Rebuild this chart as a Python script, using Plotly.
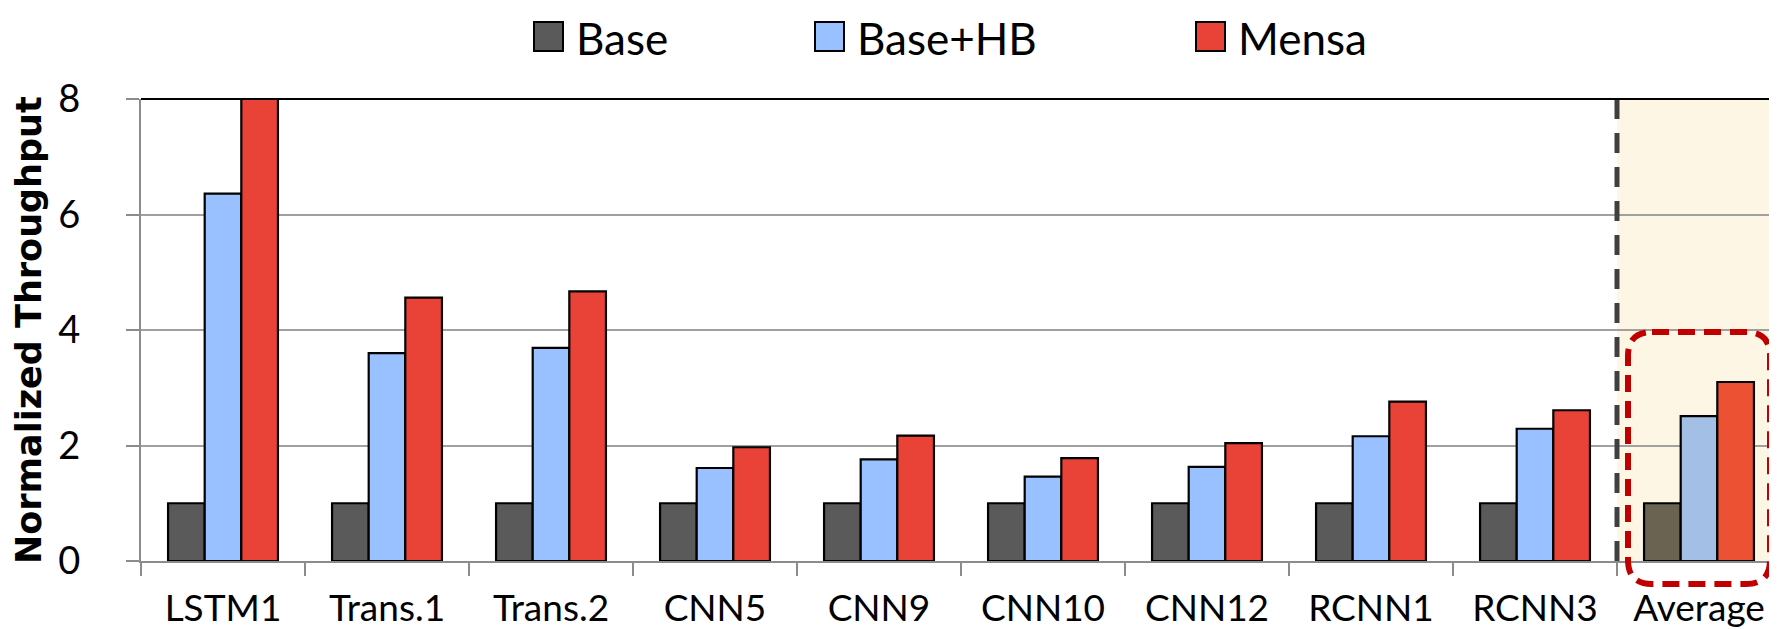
import plotly.graph_objects as go

categories = ["LSTM1", "Trans.1", "Trans.2", "CNN5", "CNN9", "CNN10", "CNN12", "RCNN1", "RCNN3", "Average"]
series_names = ["Base", "Base+HB", "Mensa"]
base = [1, 1, 1, 1, 1, 1, 1, 1, 1, 1]
base_hb = [6.36, 3.60, 3.69, 1.61, 1.76, 1.46, 1.63, 2.16, 2.29, 2.51]
mensa = [8.0, 4.56, 4.67, 1.97, 2.17, 1.78, 2.04, 2.76, 2.61, 3.10]
y_ticks = [0, 2, 4, 6, 8]

# normal colour, then the tinted colour used in the highlighted Average column
_COLORS = {
    "Base": ("#5a5a5a", "#6b6352"),
    "Base+HB": ("#99c1ff", "#a3bfe6"),
    "Mensa": ("#e94236", "#ec5133"),
}

W, H = 1777, 629
L, R, T, B = 133, 4, 91, 76
_FONT = "Lato, sans-serif"


def px_x(px):
    return (px - L) / (W - L - R)


def px_y(py):
    return (H - B - py) / (H - T - B)


fig = go.Figure()
for name, vals in zip(series_names, [base, base_hb, mensa]):
    c, c_avg = _COLORS[name]
    fig.add_trace(go.Bar(
        name=name,
        x=categories,
        y=vals,
        marker=dict(
            color=[c_avg if cat == "Average" else c for cat in categories],
            line=dict(color="black", width=2.2),
        ),
        showlegend=False,
    ))

shapes = [
    # shaded Average column
    dict(type="rect", xref="paper", yref="paper", x0=0.9, x1=1.0, y0=0, y1=1,
         fillcolor="#fdf6e4", line_width=0, layer="below"),
    # dashed separator
    dict(type="line", xref="paper", yref="paper", x0=0.9, x1=0.9, y0=0, y1=1,
         line=dict(color="#404040", width=5, dash="20px,14px"), layer="above"),
    # black frame top / right
    dict(type="line", xref="paper", yref="paper", x0=0, x1=1, y0=1, y1=1,
         line=dict(color="black", width=2), layer="above"),
    dict(type="line", xref="paper", yref="paper", x0=1, x1=1, y0=0, y1=1,
         line=dict(color="#222222", width=2), layer="above"),
]

# rounded red dashed box around the Average bars
x0, x1 = px_x(1620), px_x(1762)
y0, y1 = px_y(576), px_y(324)
rx, ry = 24 / (W - L - R), 24 / (H - T - B)
path = (
    f"M{x0 + rx},{y1} L{x1 - rx},{y1} Q{x1},{y1} {x1},{y1 - ry} "
    f"L{x1},{y0 + ry} Q{x1},{y0} {x1 - rx},{y0} "
    f"L{x0 + rx},{y0} Q{x0},{y0} {x0},{y0 + ry} "
    f"L{x0},{y1 - ry} Q{x0},{y1} {x0 + rx},{y1} Z"
)
shapes.append(dict(type="path", xref="paper", yref="paper", path=path,
                   line=dict(color="#c00000", width=6, dash="17px,9px"), layer="above"))

# custom legend with large swatches
annotations = []
legend_pos = [(526, 566), (807, 847), (1188, 1228)]
for name, (sx, tx) in zip(series_names, legend_pos):
    shapes.append(dict(type="rect", xref="paper", yref="paper",
                       x0=px_x(sx), x1=px_x(sx + 29), y0=px_y(43), y1=px_y(14),
                       fillcolor=_COLORS[name][0], line=dict(color="black", width=2)))
    annotations.append(dict(text=name, xref="paper", yref="paper", x=px_x(tx), y=px_y(30),
                            xanchor="left", yanchor="middle", showarrow=False,
                            font=dict(family=_FONT, size=44, color="black")))

annotations.append(dict(
    text="Normalized Throughput", xref="paper", yref="paper",
    x=px_x(21), y=0.5, xanchor="center", yanchor="middle", textangle=-90, showarrow=False,
    font=dict(family="DejaVu Sans, sans-serif", size=35, color="black", weight="bold"),
))

fig.update_layout(
    width=W, height=H,
    margin=dict(l=L, r=R, t=T, b=B),
    plot_bgcolor="white",
    paper_bgcolor="white",
    barmode="group",
    bargap=0.33,
    bargroupgap=0,
    shapes=shapes,
    annotations=annotations,
    xaxis=dict(
        showline=True, linecolor="#8c8c8c", linewidth=2,
        ticks="outside", tickson="boundaries", ticklen=13, tickwidth=2, tickcolor="#8c8c8c",
        tickfont=dict(family=_FONT, size=37, color="black"),
        ticklabelstandoff=14,
        showgrid=False,
    ),
    yaxis=dict(
        range=[0, 8], tickvals=y_ticks,
        showline=True, linecolor="#8c8c8c", linewidth=2,
        ticks="outside", ticklen=13, tickwidth=2, tickcolor="#8c8c8c",
        tickfont=dict(family=_FONT, size=38, color="black"),
        ticklabelstandoff=38,
        showgrid=True, gridcolor="#a0a0a0", gridwidth=1.5,
        zeroline=False,
    ),
)

fig.write_html("out.html")
